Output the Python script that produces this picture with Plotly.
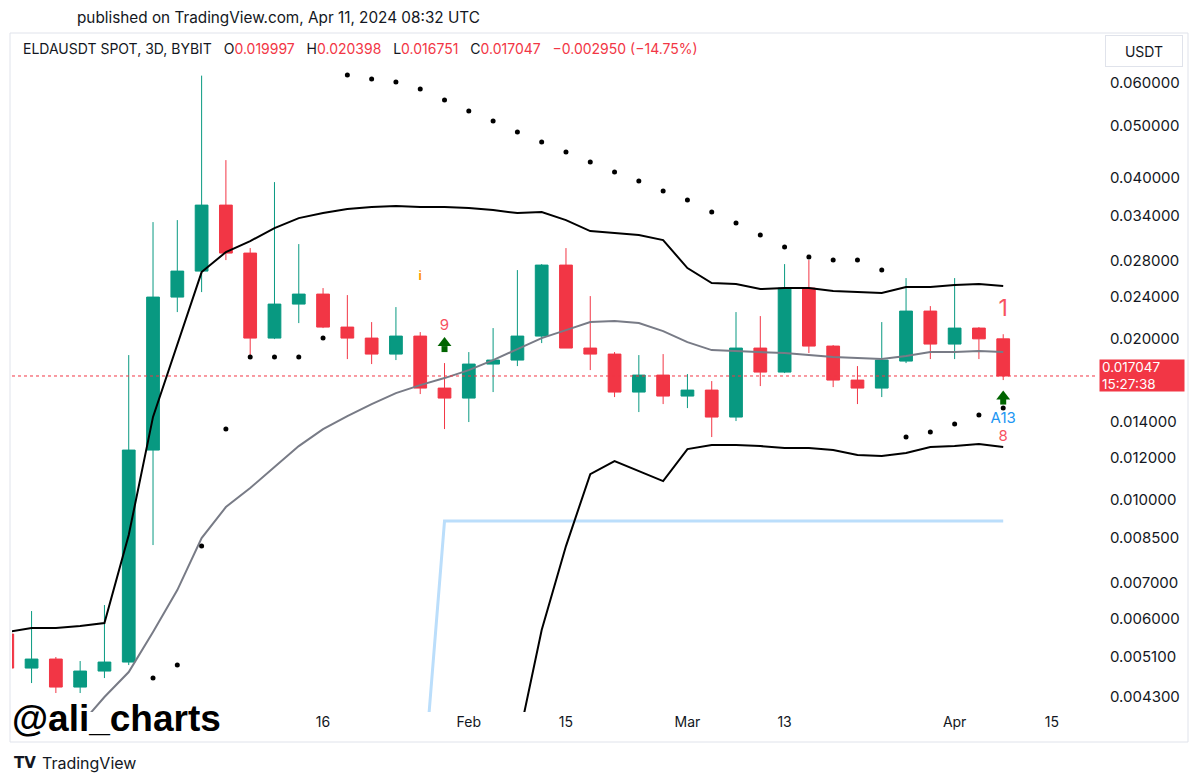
import math
import pandas as pd
import plotly.graph_objects as go

# 3D candles, ELDAUSDT on BYBIT
dates = pd.date_range("2023-12-08", periods=42, freq="3D")

open_ = [0.005625, 0.004860, 0.005052, 0.004479, 0.004798, 0.004987, 0.012400, 0.023927, 0.026754, 0.035525,
         0.028906, 0.020063, 0.023218, 0.024238, 0.021033, 0.020063, 0.018730, 0.020236, 0.016184, 0.015504,
         0.017943, 0.018254, 0.020236, 0.027453, 0.019220, 0.018730, 0.015909, 0.017114, 0.015638, 0.016046,
         0.014289, 0.019220, 0.017336, 0.024870, 0.019385, 0.016750, 0.016184, 0.018175, 0.022530, 0.019553,
         0.020943, 0.019997]
high = [0.005680, 0.006209, 0.005096, 0.005009, 0.006371, 0.018650, 0.033023, 0.033308, 0.061964, 0.043102,
        0.029534, 0.039215, 0.030046, 0.024870, 0.024134, 0.021491, 0.022921, 0.020586, 0.018020, 0.018892,
        0.020943, 0.026870, 0.027571, 0.029534, 0.024030, 0.018892, 0.018650, 0.018730, 0.017188, 0.016679,
        0.022434, 0.022052, 0.027571, 0.028050, 0.019470, 0.017789, 0.021491, 0.025962, 0.023019, 0.025962,
        0.021033, 0.020398]
low = [0.004840, 0.004557, 0.004366, 0.004366, 0.004656, 0.004923, 0.008245, 0.022434, 0.024446, 0.028050,
       0.018411, 0.019977, 0.021398, 0.020943, 0.018332, 0.017943, 0.018254, 0.015773, 0.013571, 0.013986,
       0.015909, 0.017789, 0.019637, 0.019220, 0.017486, 0.015571, 0.014599, 0.015110, 0.014852, 0.013113,
       0.014046, 0.016324, 0.017262, 0.018811, 0.016254, 0.015110, 0.015571, 0.018020, 0.018332, 0.018332,
       0.018332, 0.016751]
close = [0.004860, 0.005052, 0.004479, 0.004798, 0.004987, 0.012400, 0.023927, 0.026754, 0.035525, 0.028906,
         0.020063, 0.023218, 0.024238, 0.021033, 0.020063, 0.018730, 0.020236, 0.016184, 0.015504, 0.017943,
         0.018254, 0.020236, 0.027453, 0.019220, 0.018730, 0.015909, 0.017114, 0.015638, 0.016046, 0.014289,
         0.019220, 0.017336, 0.024870, 0.019385, 0.016750, 0.016184, 0.018254, 0.022530, 0.019553, 0.020943,
         0.019997, 0.017047]

upper_band = [0.005673, 0.005772, 0.005772, 0.005821, 0.005897, 0.008607, 0.014300, 0.019600, 0.026640, 0.029030,
              0.030435, 0.032183, 0.033595, 0.034325, 0.034920, 0.035221, 0.035373, 0.035221, 0.035221, 0.035071,
              0.034770, 0.034325, 0.034473, 0.033308, 0.031771, 0.031499, 0.031229, 0.030566, 0.027101, 0.025410,
              0.025301, 0.024763, 0.024870, 0.024870, 0.024552, 0.024446, 0.024342, 0.024977, 0.024977, 0.025193,
              0.025301, 0.025085]
mid_band = [None, None, None, 0.003805, 0.004292, 0.004778, 0.005673, 0.006795, 0.008496, 0.009707,
            0.010532, 0.011527, 0.012615, 0.013571, 0.014351, 0.015110, 0.015841, 0.016394, 0.016895, 0.017486,
            0.018254, 0.019137, 0.020063, 0.020764, 0.021491, 0.021583, 0.021398, 0.020675, 0.019721, 0.019055,
            0.018974, 0.018892, 0.018811, 0.018650, 0.018490, 0.018411, 0.018332, 0.018570, 0.018892, 0.018892,
            0.018974, 0.018892]
lower_band = [None, None, None, None, None, None, None, None, None, None,
              None, None, None, None, None, None, None, None, None, None,
              None, 0.003491, 0.005722, 0.008209, 0.011185, 0.011827, 0.011331, 0.010853, 0.012454, 0.012670,
              0.012670, 0.012615, 0.012507, 0.012507, 0.012400, 0.012136, 0.012084, 0.012241, 0.012561, 0.012615,
              0.012724, 0.012561]
blue_level = [None, None, None, None, None, None, None, None, None, None,
              None, None, None, None, None, None, None, 0.002500, 0.009140, 0.009140,
              0.009140, 0.009140, 0.009140, 0.009140, 0.009140, 0.009140, 0.009140, 0.009140, 0.009140, 0.009140,
              0.009140, 0.009140, 0.009140, 0.009140, 0.009140, 0.009140, 0.009140, 0.009140, 0.009140, 0.009140,
              0.009140, 0.009140]
sar = [None, None, None, None, None, None, 0.004656, 0.004923, 0.008209, 0.013571,
       0.018490, 0.018490, 0.018490, 0.020063, 0.062098, 0.061040, 0.060258, 0.058473, 0.055774, 0.053200,
       0.050963, 0.048611, 0.046567, 0.044608, 0.042733, 0.040936, 0.039384, 0.037728, 0.036297, 0.034473,
       0.032882, 0.031229, 0.029661, 0.028413, 0.028050, 0.028050, 0.026870, 0.013113, 0.013397, 0.013865,
       0.014413, 0.014852]

# signal labels: candle index, price, text, color, size
signal_idx = [17, 18, 41, 41, 41]
signal_price = [0.026074, 0.021124, 0.022627, 0.014167, 0.013113]
signal_text = ["<b>i</b>", "9", "1", "A13", "8"]
signal_color = ["#FF9800", "#F7525F", "#F7525F", "#2196F3", "#F7525F"]
signal_size = [12, 15, 23, 15, 15]
# green up arrows: head and stem prices
arrow_idx = [18, 41]
arrow_head = [0.019637, 0.015604]
arrow_stem = [0.019137, 0.015273]

tick_vals = [0.06, 0.05, 0.04, 0.034, 0.028, 0.024, 0.02, 0.014, 0.012, 0.01, 0.0085, 0.007, 0.006, 0.0051, 0.0043]
tick_text = [f"{v:.6f}" for v in tick_vals]
date_ticks = ["2024-01-16", "2024-02-03", "2024-02-15", "2024-03-01", "2024-03-13", "2024-04-03", "2024-04-15"]
date_text = ["16", "Feb", "15", "Mar", "13", "Apr", "15"]

GREEN = "#089981"
RED = "#F23645"
TXT = "#131722"
FONT = "Inter, Liberation Sans, Arial, sans-serif"

x_range = ["2023-12-08 14:00", "2024-04-20 14:00"]

# plot area in pixels
L, R, T, B = 12, 1097, 62, 712


def px(x):
    return (x - L) / (R - L)


def py(y):
    return (B - y) / (B - T)


fig = go.Figure()

fig.add_trace(go.Scatter(x=dates, y=blue_level, mode="lines",
                         line=dict(color="#BBDEFB", width=3), hoverinfo="skip"))
fig.add_trace(go.Scatter(x=dates, y=upper_band, mode="lines",
                         line=dict(color="#000000", width=2), hoverinfo="skip"))
fig.add_trace(go.Scatter(x=dates, y=lower_band, mode="lines",
                         line=dict(color="#000000", width=2), hoverinfo="skip"))
fig.add_trace(go.Scatter(x=dates, y=mid_band, mode="lines",
                         line=dict(color="#787B86", width=2), hoverinfo="skip"))
fig.add_trace(go.Scatter(x=x_range, y=[close[-1], close[-1]], mode="lines",
                         line=dict(color=RED, width=1, dash="dot"), hoverinfo="skip"))

fig.add_trace(go.Candlestick(
    x=dates, open=open_, high=high, low=low, close=close,
    increasing=dict(line=dict(color=GREEN, width=1), fillcolor=GREEN),
    decreasing=dict(line=dict(color=RED, width=1), fillcolor=RED),
    whiskerwidth=0, hoverinfo="skip",
))

fig.add_trace(go.Scatter(x=dates, y=sar, mode="markers",
                         marker=dict(color="#000000", size=5), hoverinfo="skip"))

arrow_x = [dates[i] for i in arrow_idx]
fig.add_trace(go.Scatter(x=arrow_x, y=arrow_stem, mode="markers",
                         marker=dict(symbol="square", size=6, color="#006400", line=dict(width=0)),
                         hoverinfo="skip"))
fig.add_trace(go.Scatter(x=arrow_x, y=arrow_head, mode="markers",
                         marker=dict(symbol="triangle-up", size=12, color="#006400", line=dict(width=0)),
                         hoverinfo="skip"))
for i, p, t, c, s in zip(signal_idx, signal_price, signal_text, signal_color, signal_size):
    fig.add_trace(go.Scatter(x=[dates[i]], y=[p], mode="text", text=[t],
                             textfont=dict(color=c, size=s, family=FONT), hoverinfo="skip"))

change = close[-1] - close[-2]
pct = change / close[-2] * 100
red_span = "<span style='color:%s'>%s</span>"
gap = "&nbsp;&nbsp;&nbsp;"
legend_txt = (
    "ELDAUSDT SPOT, 3D, BYBIT" + gap
    + "O" + red_span % (RED, f"{open_[-1]:.6f}") + gap
    + "H" + red_span % (RED, f"{high[-1]:.6f}") + gap
    + "L" + red_span % (RED, f"{low[-1]:.6f}") + gap
    + "C" + red_span % (RED, f"{close[-1]:.6f}") + gap
    + red_span % (RED, f"{change:.6f} ({pct:.2f}%)".replace("-", "\u2212"))
)

annotations = [
    dict(text="published on TradingView.com, Apr 11, 2024 08:32 UTC", x=px(75), y=py(18),
         xanchor="left", yanchor="middle", font=dict(size=15.3, color=TXT)),
    dict(text=legend_txt, x=px(21), y=py(49), xanchor="left", yanchor="middle",
         font=dict(size=14, color=TXT)),
    dict(text="USDT", x=px(1105), y=py(51), xanchor="left", yanchor="middle", width=74, height=28,
         bordercolor="#E0E3EB", borderwidth=1, font=dict(size=14, color=TXT)),
    dict(text="<b>@ali_charts</b>", x=px(10), y=py(718), xanchor="left", yanchor="middle",
         font=dict(size=37, color="#000000", family="Liberation Sans, Arial, sans-serif")),
    dict(text="<b>TV</b>", x=px(12), y=py(763), xanchor="left", yanchor="middle",
         font=dict(size=15, color=TXT, family="DejaVu Sans")),
    dict(text="TradingView", x=px(40), y=py(763), xanchor="left", yanchor="middle",
         font=dict(size=16, color=TXT)),
    dict(text=f"{close[-1]:.6f}<br>15:27:38", x=px(1099), y=math.log10(close[-1]), yref="y",
         xanchor="left", yanchor="middle", align="left", width=80, height=27, bgcolor=RED,
         borderpad=2, font=dict(size=13.5, color="#FFFFFF")),
]
for a in annotations:
    a.setdefault("xref", "paper")
    a.setdefault("yref", "paper")
    a["showarrow"] = False

fig.update_layout(
    width=1200, height=784,
    margin=dict(l=L, r=1200 - R, t=T, b=784 - B, autoexpand=False),
    paper_bgcolor="#FFFFFF", plot_bgcolor="#FFFFFF",
    showlegend=False,
    font=dict(family=FONT, color=TXT),
    boxgap=0.25,
    annotations=annotations,
    shapes=[dict(type="rect", xref="paper", yref="paper", x0=px(10), x1=px(1188), y0=py(742), y1=py(33),
                 line=dict(color="#E0E3EB", width=1), layer="below")],
)
fig.update_xaxes(type="date", range=x_range, rangeslider=dict(visible=False), showgrid=False,
                 zeroline=False, showline=False, ticks="", tickvals=date_ticks, ticktext=date_text,
                 tickfont=dict(size=14, color=TXT), automargin=False)
fig.update_yaxes(type="log", side="right", range=[math.log10(0.004024), math.log10(0.0657)],
                 showgrid=False, zeroline=False, showline=False, ticks="",
                 tickvals=tick_vals, ticktext=tick_text, tickfont=dict(size=15, color=TXT),
                 ticklabelstandoff=12, automargin=False)

# drop the default page margin so the figure sits at the window corner
fig.write_html("out.html", config={"displayModeBar": False},
               post_script="document.body.style.margin='0';")
